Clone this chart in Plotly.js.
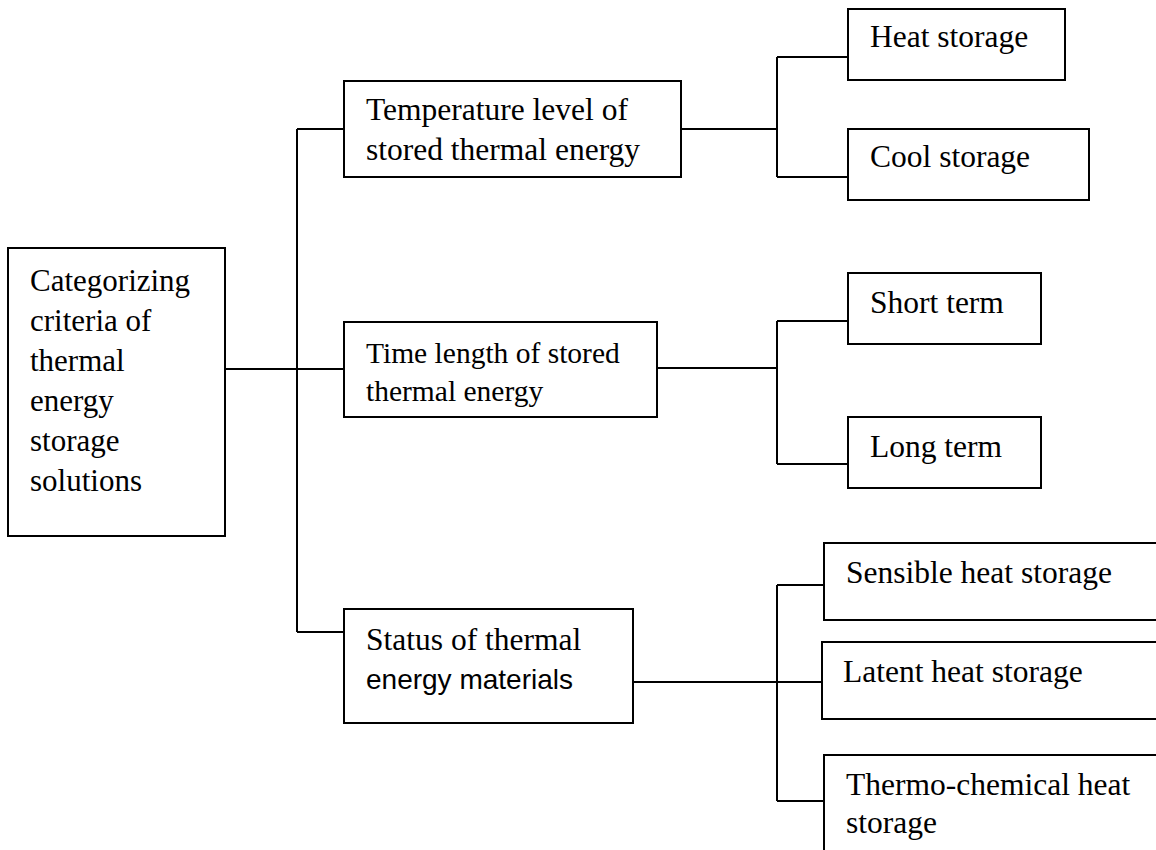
<!DOCTYPE html>
<html>
<head>
<meta charset="utf-8">
<script src="https://cdn.plot.ly/plotly-3.0.1.min.js"></script>
<style>html,body{margin:0;padding:0;background:#fff;}#chart{width:1156px;height:850px;}</style>
</head>
<body>
<div id="chart"></div>
<script>
// ---- Diagram content (text) ----
const rootLabel = ["Categorizing", "criteria of", "thermal", "energy", "storage", "solutions"];
const criteriaLabels = [
  ["Temperature level of", "stored thermal energy"],
  ["Time length of stored", "thermal energy"],
  ["Status of thermal", "energy materials"]
];
const leafLabels = [
  [["Heat storage"], ["Cool storage"]],
  [["Short term"], ["Long term"]],
  [["Sensible heat storage"], ["Latent heat storage"], ["Thermo-chemical heat", "storage"]]
];

// ---- Layout geometry (pixels in a 1156 x 850 canvas) ----
const rootGeom = {x0: 8, x1: 225, y0: 248, y1: 536, connR: 369, tx: 30, base: [290, 330, 370, 410, 450, 490], size: 31, font: "serif"};
const trunkX = 297;
const critGeom = [
  {x0: 344, x1: 681, y0: 81, y1: 177, connL: 129, connR: 129, tx: 366, base: [120, 160], size: 31.5, fonts: ["serif", "serif"]},
  {x0: 344, x1: 657, y0: 322, y1: 417, connL: 369, connR: 368, tx: 366, base: [362, 400], size: 29.5, fonts: ["serif", "serif"]},
  {x0: 344, x1: 633, y0: 609, y1: 723, connL: 632, connR: 682, tx: 366, base: [650, 688], size: 31.5, fonts: ["serif", "sans"]}
];
const bracketX = 777;
const leafGeom = [
  [{x0: 848, x1: 1065, y0: 9, y1: 80, conn: 57, tx: 870, base: [47]},
   {x0: 848, x1: 1089, y0: 129, y1: 200, conn: 177, tx: 870, base: [167]}],
  [{x0: 848, x1: 1041, y0: 273, y1: 344, conn: 321, tx: 870, base: [313]},
   {x0: 848, x1: 1041, y0: 417, y1: 488, conn: 464, tx: 870, base: [457]}],
  [{x0: 824, x1: 1170, y0: 543, y1: 620, conn: 585, tx: 846, base: [583]},
   {x0: 822, x1: 1170, y0: 642, y1: 719, conn: 682, tx: 843, base: [682]},
   {x0: 824, x1: 1170, y0: 755, y1: 900, conn: 801, tx: 846, base: [795, 833]}]
];
const SERIF = "Liberation Serif, Times New Roman, serif";
const SANS = "Liberation Sans, Arial, sans-serif";

const shapes = [];
const annotations = [];
const lx = [], ly = [];

function box(g) {
  shapes.push({type: "rect", xref: "x", yref: "y", x0: g.x0, x1: g.x1, y0: g.y0, y1: g.y1,
    line: {color: "#000", width: 2}, fillcolor: "rgba(0,0,0,0)", layer: "below"});
}
function textLines(lines, g, size, fonts) {
  lines.forEach((t, i) => {
    const f = (fonts && fonts[i] === "sans") ? SANS : SERIF;
    const sz = (fonts && fonts[i] === "sans") ? 28 : size;
    annotations.push({xref: "x", yref: "y", x: g.tx - 2, y: g.base[i] - 0.32 * sz,
      xanchor: "left", yanchor: "middle", showarrow: false, text: t,
      font: {family: f, size: sz, color: "#000"}});
  });
}
function seg(x0, y0, x1, y1) { lx.push(x0, x1, null); ly.push(y0, y1, null); }

// root
box(rootGeom);
textLines(rootLabel, rootGeom, rootGeom.size);
seg(rootGeom.x1, rootGeom.connR, trunkX, rootGeom.connR);
seg(trunkX, critGeom[0].connL, trunkX, critGeom[critGeom.length - 1].connL);

criteriaLabels.forEach((lab, i) => {
  const g = critGeom[i];
  box(g);
  textLines(lab, g, g.size, g.fonts);
  seg(trunkX, g.connL, g.x0, g.connL);
  const kids = leafGeom[i];
  seg(g.x1, g.connR, bracketX, g.connR);
  seg(bracketX, kids[0].conn, bracketX, kids[kids.length - 1].conn);
  leafLabels[i].forEach((ll, j) => {
    const k = kids[j];
    box(k);
    textLines(ll, k, 31.5);
    seg(bracketX, k.conn, k.x0, k.conn);
  });
});

const traces = [{x: lx, y: ly, mode: "lines", type: "scatter", line: {color: "#000", width: 2},
  hoverinfo: "skip", showlegend: false}];

const layout = {
  width: 1156, height: 850, margin: {l: 0, r: 0, t: 0, b: 0},
  paper_bgcolor: "#fff", plot_bgcolor: "#fff",
  xaxis: {range: [0, 1156], visible: false, fixedrange: true},
  yaxis: {range: [850, 0], visible: false, fixedrange: true},
  shapes: shapes, annotations: annotations, showlegend: false
};
Plotly.newPlot("chart", traces, layout, {staticPlot: true});
</script>
</body>
</html>
